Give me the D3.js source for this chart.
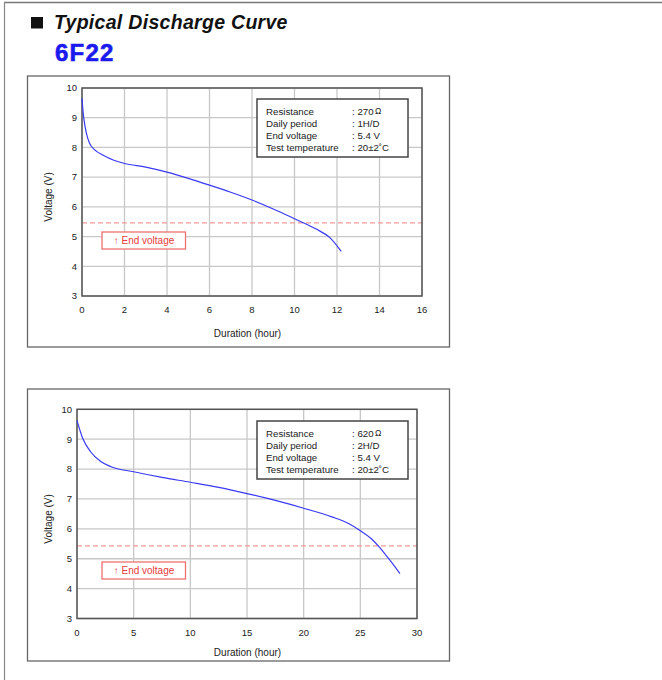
<!DOCTYPE html>
<html>
<head>
<meta charset="utf-8">
<script src="https://cdn.jsdelivr.net/npm/d3@7"></script>
<style>
  body { margin: 0; background: #fff; }
  svg { display: block; font-family: "Liberation Sans", Arial, sans-serif; }
</style>
</head>
<body>
<svg id="chart" width="662" height="680"></svg>
<script>
// curve 1: 270 ohm, 1H/D
const hours1 = [0, 0.05, 0.1, 0.2, 0.35, 0.6, 1, 1.5, 2, 3, 4, 5, 6, 7, 8, 9, 10, 11, 11.7, 12.2];
const volts1 = [9.65, 9.2, 8.9, 8.5, 8.15, 7.92, 7.74, 7.57, 7.46, 7.34, 7.17, 6.96, 6.73, 6.49, 6.23, 5.93, 5.6, 5.26, 4.94, 4.5];

// curve 2: 620 ohm, 2H/D
const hours2 = [0, 0.5, 1.2, 2.1, 3, 5, 7.5, 10, 12.5, 15, 17.5, 20, 22.5, 24, 25, 26, 26.6, 27.4, 28.5];
const volts2 = [9.62, 9.03, 8.58, 8.25, 8.08, 7.91, 7.72, 7.56, 7.39, 7.18, 6.95, 6.69, 6.4, 6.17, 5.94, 5.66, 5.42, 5.05, 4.5];

const xTicks1 = [0, 2, 4, 6, 8, 10, 12, 14, 16];
const xTicks2 = [0, 5, 10, 15, 20, 25, 30];
const yTicks = [3, 4, 5, 6, 7, 8, 9, 10];

const endLine = [5.46, 5.43];

const infoLabels = ["Resistance", "Daily period", "End voltage", "Test temperature"];
const infoValues1 = ["270", "1H/D", "5.4 V", "20\u00b12\u02daC"];
const infoValues2 = ["620", "2H/D", "5.4 V", "20\u00b12\u02daC"];

const svg = d3.select("#chart");

// page frame
svg.append("line").attr("x1", 4).attr("x2", 662).attr("y1", 2.5).attr("y2", 2.5)
  .attr("stroke", "#777").attr("stroke-width", 1.5);
svg.append("line").attr("x1", 4.5).attr("x2", 4.5).attr("y1", 2).attr("y2", 680)
  .attr("stroke", "#888").attr("stroke-width", 1.2);

// heading
svg.append("rect").attr("x", 31).attr("y", 17).attr("width", 12).attr("height", 11.5).attr("fill", "#111");
svg.append("text").attr("x", 54).attr("y", 28.5)
  .attr("font-size", 19.5).attr("font-weight", "bold").attr("font-style", "italic")
  .attr("letter-spacing", 0.3).attr("fill", "#111")
  .text("Typical Discharge Curve");
svg.append("text").attr("x", 55).attr("y", 61)
  .attr("font-size", 24).attr("font-weight", "bold").attr("letter-spacing", 1.2)
  .attr("stroke", "#1a1aee").attr("stroke-width", 0.6)
  .attr("fill", "#1a1aee")
  .text("6F22");

const panels = [
  { hours: hours1, volts: volts1, xMax: 16, xTicks: xTicks1, info: infoValues1, end: endLine[0],
    box: [27.5, 76, 422, 271], plot: [82, 88, 340, 208], infoPos: [257, 99], endPos: [102, 232] },
  { hours: hours2, volts: volts2, xMax: 30, xTicks: xTicks2, info: infoValues2, end: endLine[1],
    box: [27.5, 389, 422, 272], plot: [77, 409.3, 340, 209.2], infoPos: [257, 421], endPos: [102, 562] }
];

panels.forEach(p => drawPanel(p));

function drawPanel(p) {
  const [bx, by, bw, bh] = p.box;
  const [px, py, pw, ph] = p.plot;

  svg.append("rect").attr("x", bx).attr("y", by).attr("width", bw).attr("height", bh)
    .attr("fill", "none").attr("stroke", "#666").attr("stroke-width", 1.3);

  const x = d3.scaleLinear().domain([0, p.xMax]).range([px, px + pw]);
  const y = d3.scaleLinear().domain([3, 10]).range([py + ph, py]);

  const g = svg.append("g");

  // grid
  g.append("g").selectAll("line").data(p.xTicks).join("line")
    .attr("x1", d => x(d)).attr("x2", d => x(d)).attr("y1", py).attr("y2", py + ph)
    .attr("stroke", "#c8c8c8").attr("stroke-width", 1.3);
  g.append("g").selectAll("line").data(yTicks).join("line")
    .attr("x1", px).attr("x2", px + pw).attr("y1", d => y(d)).attr("y2", d => y(d))
    .attr("stroke", "#c8c8c8").attr("stroke-width", 1.3);

  // end voltage dashed line
  g.append("line").attr("x1", px).attr("x2", px + pw).attr("y1", y(p.end)).attr("y2", y(p.end))
    .attr("stroke", "#f39a9a").attr("stroke-width", 1.3).attr("stroke-dasharray", "5,3");

  // frame
  g.append("rect").attr("x", px).attr("y", py).attr("width", pw).attr("height", ph)
    .attr("fill", "none").attr("stroke", "#555").attr("stroke-width", 1.5);

  // tick labels
  g.append("g").selectAll("text").data(p.xTicks).join("text")
    .attr("x", d => x(d)).attr("y", py + ph + 14).attr("dy", "0.35em")
    .attr("text-anchor", "middle").attr("font-size", 9.5).attr("fill", "#222")
    .text(d => d);
  g.append("g").selectAll("text").data(yTicks).join("text")
    .attr("x", px - 5).attr("y", d => y(d)).attr("dy", "0.35em")
    .attr("text-anchor", "end").attr("font-size", 9.5).attr("fill", "#222")
    .text(d => d);

  // axis titles
  g.append("text").attr("x", 247.5).attr("y", py + ph + 37 - (p.xMax === 30 ? 3.5 : 0)).attr("dy", "0.35em")
    .attr("text-anchor", "middle").attr("font-size", 10).attr("fill", "#222")
    .text("Duration (hour)");
  const ty = py + ph / 2 + 5;
  g.append("text").attr("transform", `translate(48,${ty}) rotate(-90)`).attr("dy", "0.35em")
    .attr("text-anchor", "middle").attr("font-size", 10).attr("fill", "#222")
    .text("Voltage (V)");

  // curve
  const pts = p.hours.map((h, i) => [h, p.volts[i]]);
  g.append("path").datum(pts)
    .attr("d", d3.line().x(d => x(d[0])).y(d => y(d[1])).curve(d3.curveMonotoneX))
    .attr("fill", "none").attr("stroke", "#3a3af5").attr("stroke-width", 1.2);

  // info box
  const [ix, iy] = p.infoPos;
  g.append("rect").attr("x", ix).attr("y", iy).attr("width", 151).attr("height", 58)
    .attr("fill", "#fff").attr("stroke", "#444").attr("stroke-width", 1.5);
  infoLabels.forEach((lab, i) => {
    const yy = iy + 13 + i * 12;
    g.append("text").attr("x", ix + 9).attr("y", yy).attr("dy", "0.35em")
      .attr("font-size", 9.7).attr("fill", "#222").text(lab);
    const t = g.append("text").attr("x", ix + 95).attr("y", yy).attr("dy", "0.35em")
      .attr("font-size", 9.7).attr("fill", "#222").text(": " + p.info[i]);
    if (i === 0) {
      t.append("tspan").attr("dx", 1.5).attr("dy", -1.5).attr("font-size", 8.5).text("\u03a9");
    }
  });

  // end voltage tag
  const [ex, ey] = p.endPos;
  g.append("rect").attr("x", ex).attr("y", ey).attr("width", 83.5).attr("height", 17)
    .attr("fill", "#fff").attr("stroke", "#ef7070").attr("stroke-width", 1.3);
  g.append("text").attr("x", ex + 42).attr("y", ey + 8.5).attr("dy", "0.35em")
    .attr("text-anchor", "middle").attr("font-size", 10).attr("fill", "#e63b3b")
    .text("\u2191 End voltage");
}
</script>
</body>
</html>
